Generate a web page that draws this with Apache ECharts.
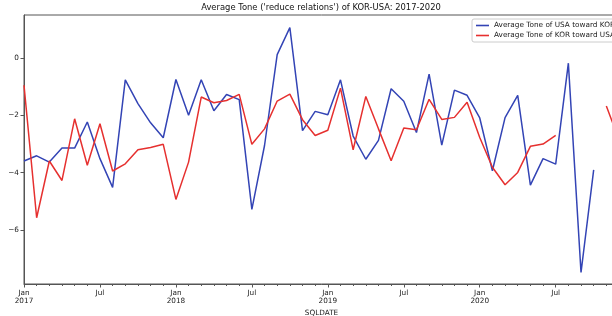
<!DOCTYPE html>
<html>
<head>
<meta charset="utf-8">
<script src="https://cdn.jsdelivr.net/npm/echarts@6/dist/echarts.min.js"></script>
<style>
html,body{margin:0;padding:0;background:#fff;overflow:hidden;}
#chart{width:620px;height:316px;}
</style>
</head>
<body>
<div id="chart"></div>
<script>
const months = [
 '2017-01','2017-02','2017-03','2017-04','2017-05','2017-06','2017-07','2017-08','2017-09','2017-10','2017-11','2017-12',
 '2018-01','2018-02','2018-03','2018-04','2018-05','2018-06','2018-07','2018-08','2018-09','2018-10','2018-11','2018-12',
 '2019-01','2019-02','2019-03','2019-04','2019-05','2019-06','2019-07','2019-08','2019-09','2019-10','2019-11','2019-12',
 '2020-01','2020-02','2020-03','2020-04','2020-05','2020-06','2020-07','2020-08','2020-09','2020-10','2020-11','2020-12'
];
const usaTowardKor = [
 -3.59, -3.41, -3.63, -3.14, -3.14, -2.23, -3.51, -4.51, -0.76, -1.59, -2.26, -2.78,
 -0.75, -2.00, -0.76, -1.84, -1.27, -1.45, -5.28, -3.05, 0.12, 1.06, -2.53, -1.86,
 -1.98, -0.76, -2.72, -3.53, -2.87, -1.07, -1.51, -2.60, -0.56, -3.04, -1.12, -1.30,
 -2.09, -3.93, -2.08, -1.30, -4.43, -3.51, -3.70, -0.18, -7.48, -3.90, null, null
];
const korTowardUsa = [
 -0.95, -5.57, -3.59, -4.27, -2.12, -3.74, -2.29, -3.94, -3.69, -3.20, -3.12, -3.01,
 -4.93, -3.63, -1.36, -1.56, -1.48, -1.27, -3.01, -2.47, -1.50, -1.26, -2.15, -2.70,
 -2.52, -1.05, -3.20, -1.34, -2.47, -3.58, -2.44, -2.50, -1.44, -2.14, -2.07, -1.54,
 -2.77, -3.81, -4.42, -3.99, -3.08, -3.00, -2.70, null, null, null, -1.67, -2.85
];
const yTicks = [-6, -4, -2, 0];
const monthNames = {'01':'Jan','07':'Jul'};
const titleText = "Average Tone ('reduce relations') of KOR-USA: 2017-2020";
const nameUsa = 'Average Tone of USA toward KOR';
const nameKor = 'Average Tone of KOR toward USA';

const FONT = 'DejaVu Sans';
const chart = echarts.init(document.getElementById('chart'));
const majorIdx = (i) => i % 6 === 0;
chart.setOption({
  animation: false,
  backgroundColor: '#fff',
  graphic: [{
    type: 'text', x: 321, y: 8,
    style: { text: titleText, textAlign: 'center', textVerticalAlign: 'middle', font: '8.4px "DejaVu Sans"', fill: '#111' }
  }],
  legend: {
    orient: 'vertical', left: 472, top: 19,
    padding: [3, 4, 3, 4], itemGap: 3,
    itemWidth: 13, itemHeight: 1.6, icon: 'rect',
    borderColor: '#ccc', borderWidth: 1, borderRadius: 2,
    textStyle: { fontFamily: FONT, fontSize: 7.3, color: '#222' },
    data: [nameUsa, nameKor]
  },
  grid: { left: 24, top: 15, right: 1, bottom: 32, show: true, borderColor: '#555', borderWidth: 1,
          containLabel: false, outerBoundsMode: 'none' },
  xAxis: [{
    type: 'category', data: months, boundaryGap: false,
    name: 'SQLDATE', nameLocation: 'middle', nameGap: 22,
    nameTextStyle: { fontFamily: FONT, fontSize: 7.3, color: '#222' },
    axisLine: { onZero: false, lineStyle: { color: '#555', width: 1 } },
    axisTick: { length: 2, interval: 0, lineStyle: { color: '#555' } },
    axisLabel: {
      interval: (i) => majorIdx(i), margin: 5, lineHeight: 8,
      fontFamily: FONT, fontSize: 7.3, color: '#222',
      formatter: (v) => { const p = v.split('-'); return p[1] === '01' ? 'Jan\n' + p[0] : monthNames[p[1]]; }
    },
    splitLine: { show: false }
  }, {
    type: 'category', data: months, boundaryGap: false, position: 'bottom',
    axisLine: { show: false, onZero: false },
    axisTick: { length: 3.5, interval: (i) => majorIdx(i), lineStyle: { color: '#555' } },
    axisLabel: { show: false }, splitLine: { show: false }
  }],
  yAxis: {
    type: 'value', min: -7.88, max: 1.5,
    axisLine: { show: true, onZero: false, lineStyle: { color: '#555', width: 1 } },
    axisTick: { show: true, length: 3.5, customValues: yTicks, lineStyle: { color: '#555' } },
    axisLabel: { customValues: yTicks, margin: 5, fontFamily: FONT, fontSize: 7.3, color: '#222',
      formatter: (v) => String(v).replace('-', '\u2212') },
    splitLine: { show: false }
  },
  series: [{
    name: nameUsa, type: 'line', data: usaTowardKor, xAxisIndex: 0,
    showSymbol: false, symbol: 'none', connectNulls: false,
    lineStyle: { color: '#3344b5', width: 1.5 }, itemStyle: { color: '#3344b5' }
  }, {
    name: nameKor, type: 'line', data: korTowardUsa, xAxisIndex: 0,
    showSymbol: false, symbol: 'none', connectNulls: false,
    lineStyle: { color: '#e6302f', width: 1.5 }, itemStyle: { color: '#e6302f' }
  }]
});
</script>
</body>
</html>
